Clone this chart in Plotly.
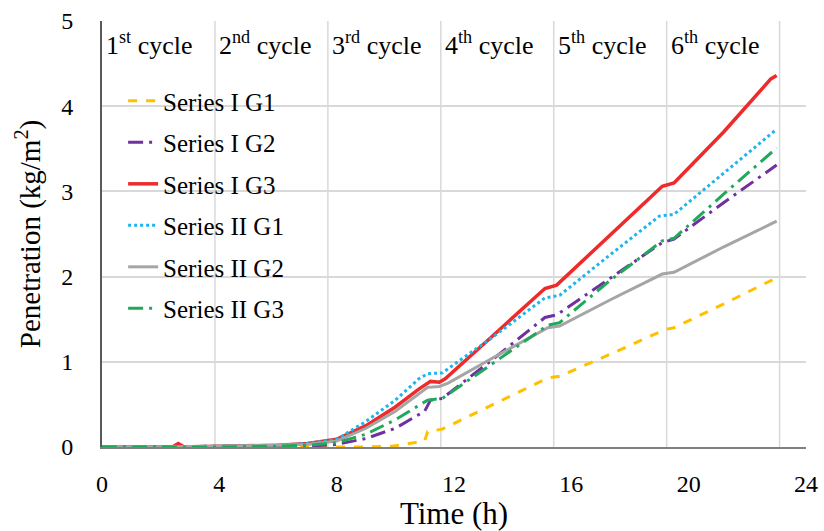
import plotly.graph_objects as go

# ---- data ----
t_I_G1 = [0, 2, 4, 6, 8, 9, 9.9, 10.5, 11.0, 11.1, 11.6, 13.4, 15.2, 15.6, 17.4, 19.2, 19.5, 21.2, 22.9]
v_I_G1 = [0, 0, 0, 0, 0, 0, 0.01, 0.04, 0.07, 0.18, 0.21, 0.51, 0.81, 0.83, 1.10, 1.38, 1.40, 1.68, 1.97]

t_I_G2 = [0, 2, 4, 6, 7, 8, 9, 10, 10.8, 11.0, 11.2, 11.6, 13.4, 15.1, 15.5, 17.3, 19.1, 19.5, 21.2, 23.0]
v_I_G2 = [0, 0, 0.01, 0.01, 0.01, 0.03, 0.10, 0.22, 0.38, 0.42, 0.55, 0.57, 1.05, 1.52, 1.55, 1.98, 2.40, 2.44, 2.87, 3.31]

t_I_G3 = [0, 2.4, 2.6, 2.8, 4, 6, 7, 8, 9, 10, 10.8, 11.2, 11.5, 11.7, 13.4, 15.1, 15.5, 17.3, 19.1, 19.5, 21.2, 22.8, 23.0]
v_I_G3 = [0, 0, 0.04, 0, 0.01, 0.02, 0.04, 0.09, 0.25, 0.47, 0.68, 0.77, 0.76, 0.80, 1.33, 1.86, 1.90, 2.48, 3.06, 3.10, 3.70, 4.32, 4.36]

t_II_G1 = [0, 2, 4, 6, 7, 8, 9, 10, 10.8, 11.1, 11.6, 13.4, 15.1, 15.6, 17.3, 19.0, 19.5, 21.2, 23.0]
v_II_G1 = [0, 0, 0.01, 0.02, 0.04, 0.09, 0.30, 0.55, 0.80, 0.86, 0.87, 1.31, 1.75, 1.78, 2.25, 2.71, 2.73, 3.22, 3.73]

t_II_G2 = [0, 2, 4, 6, 7, 8, 9, 10, 10.8, 11.1, 11.5, 11.8, 13.5, 15.2, 15.6, 17.4, 19.1, 19.5, 21.2, 23.0]
v_II_G2 = [0, 0, 0.01, 0.02, 0.03, 0.07, 0.22, 0.42, 0.62, 0.70, 0.71, 0.75, 1.08, 1.40, 1.42, 1.74, 2.03, 2.05, 2.35, 2.65]

t_II_G3 = [0, 2, 4, 6, 7, 8, 9, 10, 10.8, 11.1, 11.6, 13.4, 15.2, 15.6, 17.3, 19.1, 19.5, 21.2, 23.0]
v_II_G3 = [0, 0, 0, 0.01, 0.02, 0.05, 0.15, 0.32, 0.48, 0.55, 0.57, 1.00, 1.43, 1.46, 1.95, 2.42, 2.45, 2.97, 3.51]

cycle_bounds = [3.85, 7.7, 11.55, 15.4, 19.25, 23.1]
cycle_starts = [0, 3.85, 7.7, 11.55, 15.4, 19.25]
cycle_labels = ["1<sup>st</sup> cycle", "2<sup>nd</sup> cycle", "3<sup>rd</sup> cycle",
                "4<sup>th</sup> cycle", "5<sup>th</sup> cycle", "6<sup>th</sup> cycle"]

x_ticks = [0, 4, 8, 12, 16, 20, 24]
y_ticks = [0, 1, 2, 3, 4, 5]

FONT = "Liberation Serif, Times New Roman, serif"

series = [
    ("Series I G1", t_I_G1, v_I_G1, "#FFC000", "dash", 3),
    ("Series I G2", t_I_G2, v_I_G2, "#7030A0", "longdashdot", 3),
    ("Series I G3", t_I_G3, v_I_G3, "#EE2A2A", "solid", 3.5),
    ("Series II G1", t_II_G1, v_II_G1, "#1EB4EC", "dot", 3),
    ("Series II G2", t_II_G2, v_II_G2, "#A5A5A5", "solid", 3),
    ("Series II G3", t_II_G3, v_II_G3, "#21A95B", "longdashdot", 3),
]

fig = go.Figure()
for i, (name, t, v, c, d, w) in enumerate(series):
    fig.add_trace(go.Scatter(x=t, y=v, name=name, mode="lines", legendgroup=f"g{i}",
                             line=dict(color=c, dash=d, width=w)))

for b in cycle_bounds:
    fig.add_shape(type="line", xref="x", yref="y", x0=b, x1=b, y0=0, y1=5,
                  line=dict(color="#D9D9D9", width=1.5), layer="below")

for s, lab in zip(cycle_starts, cycle_labels):
    fig.add_annotation(x=s, y=4.74, xref="x", yref="y", text=lab, showarrow=False,
                       xanchor="left", yanchor="middle", xshift=2,
                       font=dict(family=FONT, size=26, color="black"))

fig.update_layout(
    width=824, height=531,
    margin=dict(l=102, r=18, t=21, b=84, autoexpand=False),
    paper_bgcolor="white", plot_bgcolor="white",
    font=dict(family=FONT, color="black"),
    showlegend=True,
    legend=dict(x=0.03, y=0.866, xanchor="left", yanchor="top",
                bgcolor="rgba(0,0,0,0)", font=dict(family=FONT, size=25),
                tracegroupgap=6),
)
fig.update_xaxes(range=[0, 24], tickvals=x_ticks, showgrid=False, zeroline=False,
                 showline=True, linecolor="#808080", linewidth=2, automargin=False,
                 ticks="", ticklabelstandoff=14,
                 tickfont=dict(family=FONT, size=24),
                 title=dict(text="Time (h)", font=dict(family=FONT, size=31), standoff=6))
fig.update_yaxes(range=[0, 5], tickvals=y_ticks, showgrid=True, gridcolor="#D9D9D9",
                 gridwidth=1.5, zeroline=False, automargin=False,
                 showline=True, linecolor="#595959", linewidth=2,
                 ticks="", ticklabelstandoff=22,
                 tickfont=dict(family=FONT, size=24),
                 title=dict(text="Penetration (kg/m<sup>2</sup>)", font=dict(family=FONT, size=29), standoff=12))

fig.write_html("out.html")
